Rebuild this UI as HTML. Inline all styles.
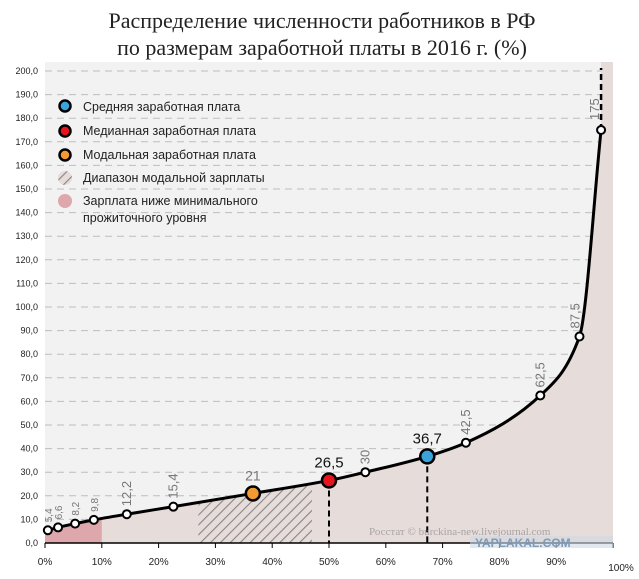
<!DOCTYPE html>
<html><head><meta charset="utf-8"><style>
body{margin:0;background:#fff;width:639px;height:574px;overflow:hidden}
svg{font-family:"Liberation Sans","DejaVu Sans",sans-serif}
</style></head><body>
<svg id="chart" width="639" height="574" viewBox="0 0 639 574" xmlns="http://www.w3.org/2000/svg">
<defs>
<pattern id="hatch" patternUnits="userSpaceOnUse" width="7" height="7" patternTransform="rotate(45)">
<rect width="7" height="7" fill="#e6dcda"/><line x1="0" y1="0" x2="0" y2="7" stroke="#8a8484" stroke-width="2.2"/>
</pattern>
</defs>
<g>
<text x="322" y="28" text-anchor="middle" font-family="Liberation Serif,serif" font-size="22" fill="#222">Распределение численности работников в РФ</text>
<text x="322" y="55" text-anchor="middle" font-family="Liberation Serif,serif" font-size="22" fill="#222">по размерам заработной платы в 2016 г. (%)</text>
</g>
<rect x="45" y="62" width="568" height="481" fill="#f2f2f2"/>
<g id="grid"></g>
<g id="fills"></g>
<g id="yaxis"></g>
<g id="xaxis"></g>
<g id="series"></g>
<g font-size="12.5" fill="#222">
<circle cx="65" cy="106" r="5.5" fill="#3aa3da" stroke="#000" stroke-width="2.5"/><text x="83" y="111">Средняя заработная плата</text>
<circle cx="65" cy="131" r="5.5" fill="#e8141c" stroke="#000" stroke-width="2.5"/><text x="83" y="135">Медианная заработная плата</text>
<circle cx="65" cy="155" r="5.5" fill="#f39a32" stroke="#000" stroke-width="2.5"/><text x="83" y="159">Модальная заработная плата</text>
<circle cx="65" cy="178" r="7" fill="url(#hatch)"/><text x="83" y="182">Диапазон модальной зарплаты</text>
<circle cx="65" cy="201" r="7" fill="#dea7ab"/><text x="83" y="205">Зарплата ниже минимального</text><text x="83" y="222">прожиточного уровня</text>
</g>
<text x="369" y="535" font-family="Liberation Serif,serif" font-size="11" fill="#a9a4a4">Росстат © burckina-new.livejournal.com</text>
<rect x="470" y="536" width="143" height="12" fill="#cfd9e4" opacity="0.6"/>
<text x="475" y="547" font-size="12" font-weight="bold" fill="#7d9ab7">YAPLAKAL.COM</text>
</svg>
<script>
const yTicks=[0,10,20,30,40,50,60,70,80,90,100,110,120,130,140,150,160,170,180,190,200];
const xTicks=[0,10,20,30,40,50,60,70,80,90,100];
const pctX=[0.5,2.3,5.3,8.6,14.4,22.6,36.6,50,56.4,67.3,74.1,87.2,94.1,97.9];
const salary=[5.4,6.6,8.2,9.8,12.2,15.4,21,26.5,30,36.7,42.5,62.5,87.5,175];
const labels=["5,4","6,6","8,2","9,8","12,2","15,4","21","26,5","30","36,7","42,5","62,5","87,5","175"];
const modalRange=[27,47];
const minWageMax=10;
const NS="http://www.w3.org/2000/svg";
const X=p=>45+p*5.68, Y=v=>543-v*2.36;
function mk(t,a,parent){const e=document.createElementNS(NS,t);for(const k in a)e.setAttribute(k,a[k]);parent.appendChild(e);return e;}
const grid=document.getElementById('grid'),ya=document.getElementById('yaxis'),xa=document.getElementById('xaxis'),fills=document.getElementById('fills'),ser=document.getElementById('series');
yTicks.forEach(v=>{
 if(v>0){const l=mk('line',{x1:45,x2:613,y1:Y(v),y2:Y(v),stroke:'#bdbdbd','stroke-dasharray':'7,5','stroke-width':1},grid);
 }
 const t=mk('text',{x:38,y:Y(v)+3,'text-anchor':'end','font-size':9,fill:'#222'},ya);t.textContent=v.toFixed(1).replace('.',',');
 
});
const ax=mk('line',{x1:45,x2:613,y1:543,y2:543,stroke:'#000','stroke-width':1.5},xa);

xTicks.forEach(p=>{
 const tk=mk('line',{x1:X(p),x2:X(p),y1:543,y2:548,stroke:'#000'},xa);
 
 const t=mk('text',{x:X(p)+(p==100?8:0),y:p==100?571:565,'text-anchor':'middle','font-size':10,fill:'#222'},xa);t.textContent=p+'%';
 
});
// monotone cubic (Fritsch-Carlson)
const pts=pctX.map((p,i)=>[X(p),Y(salary[i])]);
const n=pts.length,dx=[],sl=[],m=[];
for(let i=0;i<n-1;i++){dx[i]=pts[i+1][0]-pts[i][0];sl[i]=(pts[i+1][1]-pts[i][1])/dx[i];}
m[0]=sl[0];m[n-1]=sl[n-2];
for(let i=1;i<n-1;i++){m[i]=(sl[i-1]*sl[i]<=0)?0:(dx[i-1]+dx[i])*3/((2*dx[i]+dx[i-1])/sl[i-1]+(dx[i]+2*dx[i-1])/sl[i]);}
let d='M'+pts[0][0]+','+pts[0][1];
for(let i=0;i<n-1;i++){
 const h=dx[i]/3;
 d+=` C${pts[i][0]+h},${pts[i][1]+m[i]*h} ${pts[i+1][0]-h},${pts[i+1][1]-m[i+1]*h} ${pts[i+1][0]},${pts[i+1][1]}`;
}
const last=pts[n-1];
const area=mk('path',{d:d+` L${last[0]},62 L${X(100)},62 L${X(100)},543 L${X(0)},543 L${X(0)},${Y(salary[0]-0.8)} L${pts[0][0]},${pts[0][1]} Z`,fill:'#e6dcda'},fills);

mk('clipPath',{id:'under'},fills).appendChild(area.cloneNode());
const mw=mk('rect',{x:X(0),y:62,width:X(minWageMax)-X(0),height:481,fill:'#dea7ab','clip-path':'url(#under)'},fills);

const mr=mk('rect',{x:X(modalRange[0]),y:62,width:X(modalRange[1])-X(modalRange[0]),height:481,fill:'url(#hatch)','clip-path':'url(#under)'},fills);

[7,9].forEach(i=>{const l=mk('line',{x1:pts[i][0],x2:pts[i][0],y1:pts[i][1],y2:543,stroke:'#000','stroke-width':2,'stroke-dasharray':'6,4'},ser);
 });
const dl=mk('line',{x1:last[0],x2:last[0],y1:last[1],y2:68,stroke:'#000','stroke-width':2.5,'stroke-dasharray':'6,4'},ser);

const cv=mk('path',{d:d,fill:'none',stroke:'#000','stroke-width':3},ser);

const special={6:'#f39a32',7:'#e8141c',9:'#3aa3da'};
pts.forEach((p,i)=>{
 const big=special[i];
 const c=mk('circle',{cx:p[0],cy:p[1],r:big?7:4,fill:big||'#fff',stroke:'#000','stroke-width':big?2.5:2},ser);
 
 let t;
 if(i==7||i==9){t=mk('text',{x:p[0],y:p[1]-13,'text-anchor':'middle','font-size':15,fill:'#111'},ser);}
 else if(i==6){t=mk('text',{x:p[0],y:p[1]-13,'text-anchor':'middle','font-size':14,fill:'#777'},ser);}
 else{const fs=i<4?10:13;const ox=i==13?-2:(i==12?0:4),oy=i==13?-10:-8;
  t=mk('text',{x:p[0]+ox,y:p[1]+oy,'font-size':fs,fill:'#777',transform:`rotate(-90 ${p[0]+ox} ${p[1]+oy})`},ser);}
 t.textContent=labels[i];
 
});
</script>
</body></html>
